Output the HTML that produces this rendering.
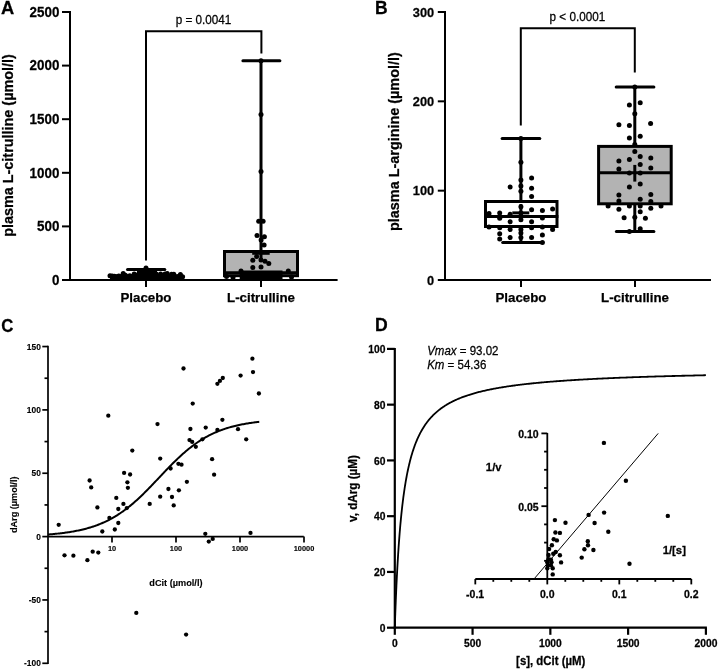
<!DOCTYPE html>
<html><head><meta charset="utf-8"><style>
html,body{margin:0;padding:0;background:#fff;width:719px;height:669px;overflow:hidden}
svg{display:block;font-family:"Liberation Sans",sans-serif;will-change:transform}
text{stroke:#000;stroke-width:0.25px}
.sm{stroke-width:0.12px}
</style></head><body>
<svg width="719" height="669" viewBox="0 0 719 669">
<text transform="translate(1.00,13.90) scale(1,1.04)" font-size="18.3" font-weight="bold" text-anchor="start" >A</text>
<line x1="70.00" y1="11.00" x2="70.00" y2="281.00" stroke="#000" stroke-width="2" stroke-linecap="butt"/>
<line x1="69.00" y1="280.00" x2="337.60" y2="280.00" stroke="#000" stroke-width="2" stroke-linecap="butt"/>
<line x1="62.00" y1="280.00" x2="70.00" y2="280.00" stroke="#000" stroke-width="2" stroke-linecap="butt"/>
<text transform="translate(59.40,284.85) scale(1,1.04)" font-size="13.4" font-weight="bold" text-anchor="end" >0</text>
<line x1="62.00" y1="226.40" x2="70.00" y2="226.40" stroke="#000" stroke-width="2" stroke-linecap="butt"/>
<text transform="translate(59.40,231.25) scale(1,1.04)" font-size="13.4" font-weight="bold" text-anchor="end" >500</text>
<line x1="62.00" y1="172.80" x2="70.00" y2="172.80" stroke="#000" stroke-width="2" stroke-linecap="butt"/>
<text transform="translate(59.40,177.65) scale(1,1.04)" font-size="13.4" font-weight="bold" text-anchor="end" >1000</text>
<line x1="62.00" y1="119.20" x2="70.00" y2="119.20" stroke="#000" stroke-width="2" stroke-linecap="butt"/>
<text transform="translate(59.40,124.05) scale(1,1.04)" font-size="13.4" font-weight="bold" text-anchor="end" >1500</text>
<line x1="62.00" y1="65.60" x2="70.00" y2="65.60" stroke="#000" stroke-width="2" stroke-linecap="butt"/>
<text transform="translate(59.40,70.45) scale(1,1.04)" font-size="13.4" font-weight="bold" text-anchor="end" >2000</text>
<line x1="62.00" y1="12.00" x2="70.00" y2="12.00" stroke="#000" stroke-width="2" stroke-linecap="butt"/>
<text transform="translate(59.40,16.85) scale(1,1.04)" font-size="13.4" font-weight="bold" text-anchor="end" >2500</text>
<line x1="146.00" y1="280.00" x2="146.00" y2="287.00" stroke="#000" stroke-width="2" stroke-linecap="butt"/>
<line x1="261.00" y1="280.00" x2="261.00" y2="287.00" stroke="#000" stroke-width="2" stroke-linecap="butt"/>
<text transform="translate(146.00,302.10) scale(1,1.0)" font-size="13.3" font-weight="bold" text-anchor="middle" >Placebo</text>
<text transform="translate(261.00,302.10) scale(1,1.0)" font-size="13.3" font-weight="bold" text-anchor="middle" >L-citrulline</text>
<text transform="translate(12.6,145.5) rotate(-90) scale(1,1.04)" font-size="14.4" font-weight="bold" text-anchor="middle">plasma L-citrulline (µmol/l)</text>
<polyline points="146,260.6 146,31.2 261.4,31.2 261.4,53.5" fill="none" stroke="#000" stroke-width="2"/>
<text transform="translate(203.50,23.80) scale(1,1.04)" font-size="11.7" font-weight="normal" text-anchor="middle" >p = 0.0041</text>
<line x1="127.50" y1="269.50" x2="164.80" y2="269.50" stroke="#000" stroke-width="3" stroke-linecap="round"/>
<rect x="137" y="270" width="20" height="10" fill="#000"/>
<rect x="110" y="274.5" width="72" height="5.5" fill="#000"/>
<circle cx="110.00" cy="275.68" r="2.5"/>
<circle cx="112.20" cy="276.10" r="2.5"/>
<circle cx="114.40" cy="276.28" r="2.5"/>
<circle cx="116.60" cy="276.80" r="2.5"/>
<circle cx="118.80" cy="276.09" r="2.5"/>
<circle cx="121.00" cy="276.73" r="2.5"/>
<circle cx="123.20" cy="273.60" r="2.5"/>
<circle cx="125.40" cy="275.13" r="2.5"/>
<circle cx="127.60" cy="276.80" r="2.5"/>
<circle cx="129.80" cy="275.77" r="2.5"/>
<circle cx="132.00" cy="276.65" r="2.5"/>
<circle cx="134.20" cy="273.90" r="2.5"/>
<circle cx="136.40" cy="275.14" r="2.5"/>
<circle cx="138.60" cy="274.36" r="2.5"/>
<circle cx="140.80" cy="275.40" r="2.5"/>
<circle cx="143.00" cy="275.51" r="2.5"/>
<circle cx="145.20" cy="273.55" r="2.5"/>
<circle cx="147.40" cy="274.26" r="2.5"/>
<circle cx="149.60" cy="274.48" r="2.5"/>
<circle cx="151.80" cy="276.71" r="2.5"/>
<circle cx="154.00" cy="276.18" r="2.5"/>
<circle cx="156.20" cy="274.06" r="2.5"/>
<circle cx="158.40" cy="276.29" r="2.5"/>
<circle cx="160.60" cy="273.99" r="2.5"/>
<circle cx="162.80" cy="275.66" r="2.5"/>
<circle cx="165.00" cy="273.94" r="2.5"/>
<circle cx="167.20" cy="273.51" r="2.5"/>
<circle cx="169.40" cy="276.55" r="2.5"/>
<circle cx="171.60" cy="274.23" r="2.5"/>
<circle cx="173.80" cy="274.25" r="2.5"/>
<circle cx="176.00" cy="276.94" r="2.5"/>
<circle cx="178.20" cy="276.55" r="2.5"/>
<circle cx="180.40" cy="274.51" r="2.5"/>
<circle cx="182.60" cy="276.87" r="2.5"/>
<circle cx="146.00" cy="268.00" r="2.5"/>
<rect x="224.5" y="251.5" width="73" height="24.2" fill="#b3b3b3" stroke="#000" stroke-width="3"/>
<line x1="223.00" y1="272.80" x2="299.00" y2="272.80" stroke="#000" stroke-width="3" stroke-linecap="butt"/>
<line x1="261.00" y1="61.00" x2="261.00" y2="259.50" stroke="#000" stroke-width="3" stroke-linecap="butt"/>
<line x1="242.90" y1="60.80" x2="279.90" y2="60.80" stroke="#000" stroke-width="3" stroke-linecap="round"/>
<line x1="252.20" y1="253.50" x2="269.70" y2="253.50" stroke="#000" stroke-width="2.6" stroke-linecap="butt"/>
<circle cx="261.00" cy="60.80" r="2.5"/>
<circle cx="261.00" cy="114.60" r="2.5"/>
<circle cx="261.00" cy="171.60" r="2.5"/>
<circle cx="258.70" cy="221.30" r="2.5"/>
<circle cx="263.10" cy="221.30" r="2.5"/>
<circle cx="257.00" cy="235.60" r="2.5"/>
<circle cx="264.40" cy="236.80" r="2.5"/>
<circle cx="261.10" cy="240.00" r="2.5"/>
<circle cx="264.10" cy="245.00" r="2.5"/>
<circle cx="256.60" cy="256.60" r="2.5"/>
<circle cx="252.80" cy="260.30" r="2.5"/>
<circle cx="261.00" cy="260.00" r="2.5"/>
<circle cx="265.00" cy="261.30" r="2.5"/>
<circle cx="268.80" cy="263.50" r="2.5"/>
<circle cx="252.80" cy="267.50" r="2.5"/>
<circle cx="261.00" cy="266.90" r="2.5"/>
<circle cx="241.00" cy="271.00" r="2.5"/>
<circle cx="288.30" cy="271.00" r="2.5"/>
<circle cx="226.50" cy="276.50" r="2.5"/>
<circle cx="233.00" cy="277.50" r="2.5"/>
<circle cx="291.50" cy="277.00" r="2.5"/>
<rect x="239.7" y="270.5" width="42.8" height="9" fill="#000"/>
<text transform="translate(375.00,13.90) scale(1,1.04)" font-size="17.5" font-weight="bold" text-anchor="start" >B</text>
<line x1="445.00" y1="11.00" x2="445.00" y2="281.00" stroke="#000" stroke-width="2" stroke-linecap="butt"/>
<line x1="444.00" y1="280.00" x2="711.00" y2="280.00" stroke="#000" stroke-width="2" stroke-linecap="butt"/>
<line x1="437.80" y1="280.00" x2="445.00" y2="280.00" stroke="#000" stroke-width="2" stroke-linecap="butt"/>
<text transform="translate(434.20,284.60) scale(1,1.04)" font-size="12.8" font-weight="bold" text-anchor="end" >0</text>
<line x1="437.80" y1="190.67" x2="445.00" y2="190.67" stroke="#000" stroke-width="2" stroke-linecap="butt"/>
<text transform="translate(434.20,195.27) scale(1,1.04)" font-size="12.8" font-weight="bold" text-anchor="end" >100</text>
<line x1="437.80" y1="101.33" x2="445.00" y2="101.33" stroke="#000" stroke-width="2" stroke-linecap="butt"/>
<text transform="translate(434.20,105.93) scale(1,1.04)" font-size="12.8" font-weight="bold" text-anchor="end" >200</text>
<line x1="437.80" y1="12.00" x2="445.00" y2="12.00" stroke="#000" stroke-width="2" stroke-linecap="butt"/>
<text transform="translate(434.20,16.60) scale(1,1.04)" font-size="12.8" font-weight="bold" text-anchor="end" >300</text>
<line x1="521.00" y1="280.00" x2="521.00" y2="287.00" stroke="#000" stroke-width="2" stroke-linecap="butt"/>
<line x1="635.00" y1="280.00" x2="635.00" y2="287.00" stroke="#000" stroke-width="2" stroke-linecap="butt"/>
<text transform="translate(521.00,302.10) scale(1,1.0)" font-size="13.3" font-weight="bold" text-anchor="middle" >Placebo</text>
<text transform="translate(635.00,302.10) scale(1,1.0)" font-size="13.3" font-weight="bold" text-anchor="middle" >L-citrulline</text>
<text transform="translate(398.6,141.6) rotate(-90) scale(1,1.04)" font-size="14.4" font-weight="bold" text-anchor="middle">plasma L-arginine (µmol/l)</text>
<polyline points="520.8,125.4 520.8,28.3 634.8,28.3 634.8,72.4" fill="none" stroke="#000" stroke-width="2"/>
<text transform="translate(577.40,21.30) scale(1,1.04)" font-size="11.7" font-weight="normal" text-anchor="middle" >p &lt; 0.0001</text>
<line x1="520.90" y1="138.60" x2="520.90" y2="242.60" stroke="#000" stroke-width="3" stroke-linecap="butt"/>
<line x1="502.10" y1="138.60" x2="539.80" y2="138.60" stroke="#000" stroke-width="3" stroke-linecap="round"/>
<circle cx="520.90" cy="138.60" r="2.5"/>
<line x1="502.70" y1="242.60" x2="541.30" y2="242.60" stroke="#000" stroke-width="3" stroke-linecap="round"/>
<rect x="485.5" y="201.5" width="71.5" height="25" fill="#fff" stroke="#000" stroke-width="3"/>
<line x1="484.00" y1="216.50" x2="558.40" y2="216.50" stroke="#000" stroke-width="3" stroke-linecap="butt"/>
<line x1="512.30" y1="212.90" x2="529.30" y2="212.90" stroke="#000" stroke-width="3" stroke-linecap="butt"/>
<line x1="520.90" y1="204.00" x2="520.90" y2="221.00" stroke="#000" stroke-width="3" stroke-linecap="butt"/>
<circle cx="520.90" cy="162.30" r="2.5"/>
<circle cx="531.60" cy="178.10" r="2.5"/>
<circle cx="520.90" cy="179.90" r="2.5"/>
<circle cx="510.10" cy="187.00" r="2.5"/>
<circle cx="520.90" cy="186.00" r="2.5"/>
<circle cx="531.60" cy="188.30" r="2.5"/>
<circle cx="520.90" cy="191.30" r="2.5"/>
<circle cx="531.60" cy="196.40" r="2.5"/>
<circle cx="520.90" cy="206.80" r="2.5"/>
<circle cx="531.60" cy="209.80" r="2.5"/>
<circle cx="542.40" cy="210.40" r="2.5"/>
<circle cx="552.60" cy="208.90" r="2.5"/>
<circle cx="489.00" cy="213.40" r="2.5"/>
<circle cx="499.70" cy="212.90" r="2.5"/>
<circle cx="499.70" cy="218.30" r="2.5"/>
<circle cx="510.10" cy="221.80" r="2.5"/>
<circle cx="520.90" cy="219.70" r="2.5"/>
<circle cx="531.60" cy="221.80" r="2.5"/>
<circle cx="542.40" cy="217.90" r="2.5"/>
<circle cx="489.00" cy="226.90" r="2.5"/>
<circle cx="499.70" cy="227.80" r="2.5"/>
<circle cx="510.10" cy="229.60" r="2.5"/>
<circle cx="520.90" cy="229.60" r="2.5"/>
<circle cx="531.60" cy="227.80" r="2.5"/>
<circle cx="542.40" cy="226.90" r="2.5"/>
<circle cx="552.60" cy="229.60" r="2.5"/>
<circle cx="499.70" cy="233.70" r="2.5"/>
<circle cx="520.90" cy="233.10" r="2.5"/>
<circle cx="510.10" cy="237.60" r="2.5"/>
<circle cx="520.90" cy="237.60" r="2.5"/>
<circle cx="531.60" cy="237.60" r="2.5"/>
<circle cx="542.40" cy="234.90" r="2.5"/>
<circle cx="499.70" cy="239.10" r="2.5"/>
<circle cx="542.40" cy="242.60" r="2.5"/>
<circle cx="510.10" cy="214.30" r="2.5"/>
<circle cx="520.90" cy="212.90" r="2.5"/>
<line x1="634.80" y1="86.90" x2="634.80" y2="231.40" stroke="#000" stroke-width="3" stroke-linecap="butt"/>
<line x1="616.20" y1="86.90" x2="653.90" y2="86.90" stroke="#000" stroke-width="3" stroke-linecap="round"/>
<circle cx="634.80" cy="86.90" r="2.5"/>
<line x1="616.40" y1="231.40" x2="653.90" y2="231.40" stroke="#000" stroke-width="3" stroke-linecap="round"/>
<rect x="598.6" y="146.4" width="72.6" height="57.4" fill="#b3b3b3" stroke="#000" stroke-width="3"/>
<line x1="598.00" y1="172.70" x2="671.40" y2="172.70" stroke="#000" stroke-width="3" stroke-linecap="butt"/>
<line x1="634.80" y1="164.90" x2="634.80" y2="181.60" stroke="#000" stroke-width="3" stroke-linecap="butt"/>
<circle cx="629.40" cy="104.90" r="2.5"/>
<circle cx="640.20" cy="102.70" r="2.5"/>
<circle cx="634.80" cy="113.80" r="2.5"/>
<circle cx="618.90" cy="124.80" r="2.5"/>
<circle cx="629.40" cy="125.40" r="2.5"/>
<circle cx="650.60" cy="123.60" r="2.5"/>
<circle cx="629.40" cy="138.00" r="2.5"/>
<circle cx="640.20" cy="136.20" r="2.5"/>
<circle cx="634.80" cy="144.60" r="2.5"/>
<circle cx="634.80" cy="151.40" r="2.5"/>
<circle cx="640.20" cy="156.60" r="2.5"/>
<circle cx="650.80" cy="158.10" r="2.5"/>
<circle cx="618.90" cy="160.90" r="2.5"/>
<circle cx="629.40" cy="159.60" r="2.5"/>
<circle cx="640.20" cy="164.50" r="2.5"/>
<circle cx="618.90" cy="169.10" r="2.5"/>
<circle cx="650.80" cy="168.00" r="2.5"/>
<circle cx="629.40" cy="173.10" r="2.5"/>
<circle cx="640.20" cy="173.10" r="2.5"/>
<circle cx="629.40" cy="186.90" r="2.5"/>
<circle cx="640.20" cy="184.10" r="2.5"/>
<circle cx="618.90" cy="195.00" r="2.5"/>
<circle cx="650.80" cy="194.40" r="2.5"/>
<circle cx="640.20" cy="199.30" r="2.5"/>
<circle cx="618.90" cy="201.10" r="2.5"/>
<circle cx="650.80" cy="201.50" r="2.5"/>
<circle cx="608.10" cy="206.10" r="2.5"/>
<circle cx="629.40" cy="206.10" r="2.5"/>
<circle cx="640.20" cy="206.10" r="2.5"/>
<circle cx="661.00" cy="206.10" r="2.5"/>
<circle cx="618.90" cy="209.20" r="2.5"/>
<circle cx="650.80" cy="208.20" r="2.5"/>
<circle cx="640.20" cy="211.80" r="2.5"/>
<circle cx="624.10" cy="217.70" r="2.5"/>
<circle cx="634.80" cy="217.20" r="2.5"/>
<circle cx="645.40" cy="218.20" r="2.5"/>
<circle cx="640.20" cy="228.80" r="2.5"/>
<circle cx="629.40" cy="231.40" r="2.5"/>
<text transform="translate(1.30,331.50) scale(1,1.04)" font-size="16.8" font-weight="bold" text-anchor="start" >C</text>
<line x1="48.00" y1="345.75" x2="48.00" y2="664.10" stroke="#000" stroke-width="1.7" stroke-linecap="butt"/>
<line x1="48.00" y1="536.60" x2="303.80" y2="536.60" stroke="#000" stroke-width="1.7" stroke-linecap="butt"/>
<line x1="42.30" y1="663.30" x2="48.00" y2="663.30" stroke="#000" stroke-width="1.7" stroke-linecap="butt"/>
<text class="sm" transform="translate(40.80,666.30) scale(1,1.04)" font-size="8.4" font-weight="bold" text-anchor="end" >-100</text>
<line x1="44.50" y1="631.62" x2="48.00" y2="631.62" stroke="#000" stroke-width="1.7" stroke-linecap="butt"/>
<line x1="42.30" y1="599.95" x2="48.00" y2="599.95" stroke="#000" stroke-width="1.7" stroke-linecap="butt"/>
<text class="sm" transform="translate(40.80,602.95) scale(1,1.04)" font-size="8.4" font-weight="bold" text-anchor="end" >-50</text>
<line x1="44.50" y1="568.27" x2="48.00" y2="568.27" stroke="#000" stroke-width="1.7" stroke-linecap="butt"/>
<line x1="42.30" y1="536.60" x2="48.00" y2="536.60" stroke="#000" stroke-width="1.7" stroke-linecap="butt"/>
<text class="sm" transform="translate(40.80,539.60) scale(1,1.04)" font-size="8.4" font-weight="bold" text-anchor="end" >0</text>
<line x1="44.50" y1="504.93" x2="48.00" y2="504.93" stroke="#000" stroke-width="1.7" stroke-linecap="butt"/>
<line x1="42.30" y1="473.25" x2="48.00" y2="473.25" stroke="#000" stroke-width="1.7" stroke-linecap="butt"/>
<text class="sm" transform="translate(40.80,476.25) scale(1,1.04)" font-size="8.4" font-weight="bold" text-anchor="end" >50</text>
<line x1="44.50" y1="441.58" x2="48.00" y2="441.58" stroke="#000" stroke-width="1.7" stroke-linecap="butt"/>
<line x1="42.30" y1="409.90" x2="48.00" y2="409.90" stroke="#000" stroke-width="1.7" stroke-linecap="butt"/>
<text class="sm" transform="translate(40.80,412.90) scale(1,1.04)" font-size="8.4" font-weight="bold" text-anchor="end" >100</text>
<line x1="44.50" y1="378.23" x2="48.00" y2="378.23" stroke="#000" stroke-width="1.7" stroke-linecap="butt"/>
<line x1="42.30" y1="346.55" x2="48.00" y2="346.55" stroke="#000" stroke-width="1.7" stroke-linecap="butt"/>
<text class="sm" transform="translate(40.80,349.55) scale(1,1.04)" font-size="8.4" font-weight="bold" text-anchor="end" >150</text>
<line x1="112.00" y1="536.60" x2="112.00" y2="542.50" stroke="#000" stroke-width="1.7" stroke-linecap="butt"/>
<text class="sm" transform="translate(112.00,551.00) scale(1,1.04)" font-size="7.4" font-weight="bold" text-anchor="middle" >10</text>
<line x1="176.00" y1="536.60" x2="176.00" y2="542.50" stroke="#000" stroke-width="1.7" stroke-linecap="butt"/>
<text class="sm" transform="translate(176.00,551.00) scale(1,1.04)" font-size="7.4" font-weight="bold" text-anchor="middle" >100</text>
<line x1="240.00" y1="536.60" x2="240.00" y2="542.50" stroke="#000" stroke-width="1.7" stroke-linecap="butt"/>
<text class="sm" transform="translate(240.00,551.00) scale(1,1.04)" font-size="7.4" font-weight="bold" text-anchor="middle" >1000</text>
<line x1="304.00" y1="536.60" x2="304.00" y2="542.50" stroke="#000" stroke-width="1.7" stroke-linecap="butt"/>
<text class="sm" transform="translate(304.00,551.00) scale(1,1.04)" font-size="7.4" font-weight="bold" text-anchor="middle" >10000</text>
<text class="sm" transform="translate(175.90,585.90) scale(1,1.04)" font-size="9.2" font-weight="bold" text-anchor="middle" >dCit (µmol/l)</text>
<text class="sm" transform="translate(16.6,504.8) rotate(-90) scale(1,1.04)" font-size="9.15" font-weight="bold" text-anchor="middle">dArg (µmol/l)</text>
<polyline points="48.00,534.47 49.06,534.39 50.11,534.31 51.17,534.22 52.23,534.13 53.28,534.04 54.34,533.94 55.39,533.84 56.45,533.73 57.51,533.62 58.56,533.51 59.62,533.40 60.68,533.28 61.73,533.15 62.79,533.02 63.84,532.89 64.90,532.75 65.96,532.60 67.01,532.45 68.07,532.30 69.13,532.14 70.18,531.97 71.24,531.80 72.30,531.62 73.35,531.44 74.41,531.25 75.46,531.05 76.52,530.85 77.58,530.63 78.63,530.42 79.69,530.19 80.75,529.95 81.80,529.71 82.86,529.46 83.92,529.20 84.97,528.93 86.03,528.66 87.08,528.37 88.14,528.08 89.20,527.77 90.25,527.45 91.31,527.13 92.37,526.79 93.42,526.45 94.48,526.09 95.53,525.72 96.59,525.34 97.65,524.94 98.70,524.54 99.76,524.12 100.82,523.69 101.87,523.25 102.93,522.79 103.99,522.32 105.04,521.84 106.10,521.34 107.15,520.83 108.21,520.30 109.27,519.76 110.32,519.20 111.38,518.63 112.44,518.04 113.49,517.44 114.55,516.82 115.61,516.19 116.66,515.54 117.72,514.88 118.77,514.19 119.83,513.50 120.89,512.78 121.94,512.05 123.00,511.31 124.06,510.54 125.11,509.76 126.17,508.97 127.22,508.16 128.28,507.33 129.34,506.48 130.39,505.62 131.45,504.75 132.51,503.86 133.56,502.95 134.62,502.03 135.68,501.09 136.73,500.14 137.79,499.18 138.84,498.20 139.90,497.21 140.96,496.21 142.01,495.19 143.07,494.17 144.13,493.13 145.18,492.08 146.24,491.03 147.29,489.96 148.35,488.88 149.41,487.80 150.46,486.71 151.52,485.61 152.58,484.51 153.63,483.40 154.69,482.29 155.75,481.18 156.80,480.06 157.86,478.94 158.91,477.82 159.97,476.70 161.03,475.59 162.08,474.47 163.14,473.35 164.20,472.24 165.25,471.13 166.31,470.03 167.37,468.93 168.42,467.84 169.48,466.75 170.53,465.68 171.59,464.61 172.65,463.55 173.70,462.50 174.76,461.46 175.82,460.43 176.87,459.41 177.93,458.40 178.98,457.41 180.04,456.43 181.10,455.46 182.15,454.51 183.21,453.57 184.27,452.64 185.32,451.73 186.38,450.84 187.44,449.96 188.49,449.09 189.55,448.24 190.60,447.41 191.66,446.59 192.72,445.79 193.77,445.01 194.83,444.24 195.89,443.49 196.94,442.76 198.00,442.04 199.06,441.34 200.11,440.65 201.17,439.98 202.22,439.33 203.28,438.69 204.34,438.07 205.39,437.46 206.45,436.87 207.51,436.30 208.56,435.74 209.62,435.19 210.67,434.66 211.73,434.14 212.79,433.64 213.84,433.15 214.90,432.68 215.96,432.22 217.01,431.77 218.07,431.34 219.13,430.92 220.18,430.51 221.24,430.11 222.29,429.73 223.35,429.36 224.41,428.99 225.46,428.64 226.52,428.30 227.58,427.98 228.63,427.66 229.69,427.35 230.75,427.05 231.80,426.76 232.86,426.48 233.91,426.21 234.97,425.95 236.03,425.70 237.08,425.45 238.14,425.22 239.20,424.99 240.25,424.77 241.31,424.55 242.36,424.35 243.42,424.15 244.48,423.96 245.53,423.77 246.59,423.59 247.65,423.42 248.70,423.25 249.76,423.09 250.82,422.93 251.87,422.78 252.93,422.63 253.98,422.49 255.04,422.36 256.10,422.23 257.15,422.10 258.21,421.98 259.27,421.86" fill="none" stroke="#000" stroke-width="2"/>
<circle cx="183.50" cy="368.50" r="2.15"/>
<circle cx="192.70" cy="403.60" r="2.15"/>
<circle cx="108.30" cy="415.70" r="2.15"/>
<circle cx="157.50" cy="424.10" r="2.15"/>
<circle cx="190.40" cy="429.00" r="2.15"/>
<circle cx="189.50" cy="440.10" r="2.15"/>
<circle cx="192.20" cy="441.90" r="2.15"/>
<circle cx="195.80" cy="446.80" r="2.15"/>
<circle cx="132.30" cy="450.60" r="2.15"/>
<circle cx="160.20" cy="458.60" r="2.15"/>
<circle cx="89.60" cy="480.50" r="2.15"/>
<circle cx="91.20" cy="487.40" r="2.15"/>
<circle cx="124.10" cy="472.90" r="2.15"/>
<circle cx="130.10" cy="474.50" r="2.15"/>
<circle cx="127.40" cy="482.30" r="2.15"/>
<circle cx="127.90" cy="487.80" r="2.15"/>
<circle cx="97.40" cy="507.40" r="2.15"/>
<circle cx="116.30" cy="497.90" r="2.15"/>
<circle cx="118.30" cy="509.00" r="2.15"/>
<circle cx="123.40" cy="503.90" r="2.15"/>
<circle cx="126.80" cy="508.10" r="2.15"/>
<circle cx="109.40" cy="517.90" r="2.15"/>
<circle cx="118.30" cy="523.00" r="2.15"/>
<circle cx="102.30" cy="531.50" r="2.15"/>
<circle cx="114.80" cy="529.50" r="2.15"/>
<circle cx="58.70" cy="524.80" r="2.15"/>
<circle cx="170.60" cy="468.50" r="2.15"/>
<circle cx="178.40" cy="463.80" r="2.15"/>
<circle cx="181.50" cy="464.70" r="2.15"/>
<circle cx="186.90" cy="481.80" r="2.15"/>
<circle cx="168.40" cy="489.00" r="2.15"/>
<circle cx="178.90" cy="490.30" r="2.15"/>
<circle cx="160.20" cy="496.70" r="2.15"/>
<circle cx="172.00" cy="497.00" r="2.15"/>
<circle cx="149.70" cy="503.90" r="2.15"/>
<circle cx="173.70" cy="505.40" r="2.15"/>
<circle cx="64.50" cy="555.30" r="2.15"/>
<circle cx="73.40" cy="555.70" r="2.15"/>
<circle cx="92.70" cy="551.70" r="2.15"/>
<circle cx="98.30" cy="552.60" r="2.15"/>
<circle cx="87.40" cy="560.20" r="2.15"/>
<circle cx="252.40" cy="358.70" r="2.15"/>
<circle cx="253.00" cy="372.10" r="2.15"/>
<circle cx="240.60" cy="375.60" r="2.15"/>
<circle cx="222.80" cy="378.00" r="2.15"/>
<circle cx="219.90" cy="380.90" r="2.15"/>
<circle cx="217.40" cy="383.80" r="2.15"/>
<circle cx="258.90" cy="393.50" r="2.15"/>
<circle cx="222.40" cy="419.80" r="2.15"/>
<circle cx="205.70" cy="427.60" r="2.15"/>
<circle cx="217.40" cy="430.00" r="2.15"/>
<circle cx="238.00" cy="429.20" r="2.15"/>
<circle cx="202.40" cy="439.30" r="2.15"/>
<circle cx="246.20" cy="439.30" r="2.15"/>
<circle cx="212.10" cy="459.20" r="2.15"/>
<circle cx="214.10" cy="474.70" r="2.15"/>
<circle cx="205.30" cy="533.80" r="2.15"/>
<circle cx="212.70" cy="538.90" r="2.15"/>
<circle cx="208.80" cy="541.60" r="2.15"/>
<circle cx="250.50" cy="532.90" r="2.15"/>
<circle cx="136.30" cy="612.90" r="2.15"/>
<circle cx="186.10" cy="634.60" r="2.15"/>
<text transform="translate(375.00,331.40) scale(1,1.04)" font-size="17.6" font-weight="bold" text-anchor="start" >D</text>
<line x1="394.80" y1="348.00" x2="394.80" y2="628.70" stroke="#000" stroke-width="2.2" stroke-linecap="butt"/>
<line x1="393.80" y1="627.70" x2="706.90" y2="627.70" stroke="#000" stroke-width="2.2" stroke-linecap="butt"/>
<line x1="387.00" y1="627.70" x2="394.80" y2="627.70" stroke="#000" stroke-width="2.2" stroke-linecap="butt"/>
<text transform="translate(385.50,631.90) scale(1,1.04)" font-size="10.3" font-weight="bold" text-anchor="end" >0</text>
<line x1="387.00" y1="571.94" x2="394.80" y2="571.94" stroke="#000" stroke-width="2.2" stroke-linecap="butt"/>
<text transform="translate(385.50,576.14) scale(1,1.04)" font-size="10.3" font-weight="bold" text-anchor="end" >20</text>
<line x1="387.00" y1="516.18" x2="394.80" y2="516.18" stroke="#000" stroke-width="2.2" stroke-linecap="butt"/>
<text transform="translate(385.50,520.38) scale(1,1.04)" font-size="10.3" font-weight="bold" text-anchor="end" >40</text>
<line x1="387.00" y1="460.42" x2="394.80" y2="460.42" stroke="#000" stroke-width="2.2" stroke-linecap="butt"/>
<text transform="translate(385.50,464.62) scale(1,1.04)" font-size="10.3" font-weight="bold" text-anchor="end" >60</text>
<line x1="387.00" y1="404.66" x2="394.80" y2="404.66" stroke="#000" stroke-width="2.2" stroke-linecap="butt"/>
<text transform="translate(385.50,408.86) scale(1,1.04)" font-size="10.3" font-weight="bold" text-anchor="end" >80</text>
<line x1="387.00" y1="348.90" x2="394.80" y2="348.90" stroke="#000" stroke-width="2.2" stroke-linecap="butt"/>
<text transform="translate(385.50,353.10) scale(1,1.04)" font-size="10.3" font-weight="bold" text-anchor="end" >100</text>
<line x1="394.80" y1="627.70" x2="394.80" y2="634.80" stroke="#000" stroke-width="2.2" stroke-linecap="butt"/>
<text transform="translate(394.80,647.00) scale(1,1.04)" font-size="10.3" font-weight="bold" text-anchor="middle" >0</text>
<line x1="472.57" y1="627.70" x2="472.57" y2="634.80" stroke="#000" stroke-width="2.2" stroke-linecap="butt"/>
<text transform="translate(472.57,647.00) scale(1,1.04)" font-size="10.3" font-weight="bold" text-anchor="middle" >500</text>
<line x1="550.35" y1="627.70" x2="550.35" y2="634.80" stroke="#000" stroke-width="2.2" stroke-linecap="butt"/>
<text transform="translate(550.35,647.00) scale(1,1.04)" font-size="10.3" font-weight="bold" text-anchor="middle" >1000</text>
<line x1="628.12" y1="627.70" x2="628.12" y2="634.80" stroke="#000" stroke-width="2.2" stroke-linecap="butt"/>
<text transform="translate(628.12,647.00) scale(1,1.04)" font-size="10.3" font-weight="bold" text-anchor="middle" >1500</text>
<line x1="705.90" y1="627.70" x2="705.90" y2="634.80" stroke="#000" stroke-width="2.2" stroke-linecap="butt"/>
<text transform="translate(705.90,647.00) scale(1,1.04)" font-size="10.3" font-weight="bold" text-anchor="middle" >2000</text>
<text transform="translate(550.70,664.60) scale(1,1.04)" font-size="11.4" font-weight="bold" text-anchor="middle" >[s], dCit (µM)</text>
<text transform="translate(356.5,488.5) rotate(-90) scale(1,1.04)" font-size="11.7" font-weight="bold" text-anchor="middle">v, dArg (µM)</text>
<text transform="translate(427.2,355) scale(1,1.04)" font-size="11.5"><tspan font-style="italic">Vmax</tspan> = 93.02</text>
<text transform="translate(427.2,368.9) scale(1,1.04)" font-size="11.5"><tspan font-style="italic">Km</tspan> = 54.36</text>
<polyline points="394.80,627.70 394.80,627.68 394.80,627.62 394.81,627.50 394.81,627.32 394.82,627.08 394.83,626.78 394.84,626.41 394.86,625.97 394.87,625.46 394.89,624.88 394.91,624.23 394.94,623.51 394.97,622.72 394.99,621.86 395.03,620.92 395.06,619.92 395.10,618.85 395.14,617.71 395.18,616.50 395.23,615.23 395.28,613.89 395.33,612.49 395.38,611.03 395.44,609.50 395.50,607.93 395.56,606.29 395.63,604.60 395.70,602.86 395.77,601.07 395.84,599.24 395.92,597.36 396.00,595.44 396.09,593.47 396.17,591.48 396.26,589.44 396.36,587.38 396.45,585.28 396.55,583.16 396.66,581.01 396.76,578.84 396.87,576.65 396.99,574.44 397.10,572.22 397.22,569.98 397.34,567.73 397.47,565.47 397.60,563.21 397.73,560.94 397.87,558.66 398.01,556.39 398.15,554.11 398.30,551.84 398.45,549.57 398.60,547.31 398.76,545.05 398.92,542.80 399.08,540.57 399.25,538.34 399.42,536.12 399.59,533.92 399.77,531.73 399.95,529.56 400.13,527.40 400.32,525.26 400.51,523.14 400.71,521.04 400.91,518.96 401.11,516.89 401.31,514.85 401.52,512.83 401.74,510.83 401.95,508.85 402.17,506.89 402.40,504.96 402.63,503.05 402.86,501.16 403.09,499.30 403.33,497.46 403.57,495.64 403.82,493.85 404.07,492.08 404.32,490.33 404.58,488.61 404.84,486.92 405.11,485.24 405.37,483.59 405.65,481.97 405.92,480.36 406.20,478.78 406.49,477.23 406.77,475.70 407.07,474.19 407.36,472.70 407.66,471.24 407.96,469.79 408.27,468.38 408.58,466.98 408.90,465.60 409.21,464.25 409.54,462.92 409.86,461.61 410.19,460.32 410.53,459.05 410.86,457.80 411.21,456.57 411.55,455.36 411.90,454.17 412.25,453.00 412.61,451.84 412.97,450.71 413.34,449.60 413.71,448.50 414.08,447.42 414.46,446.36 414.84,445.31 415.23,444.29 415.62,443.28 416.01,442.28 416.41,441.31 416.81,440.35 417.21,439.40 417.62,438.47 418.04,437.56 418.45,436.66 418.88,435.77 419.30,434.90 419.73,434.04 420.16,433.20 420.60,432.37 421.04,431.56 421.49,430.75 421.94,429.96 422.40,429.19 422.85,428.42 423.32,427.67 423.78,426.93 424.25,426.20 424.73,425.49 425.21,424.78 425.69,424.09 426.18,423.41 426.67,422.74 427.17,422.08 427.67,421.43 428.17,420.79 428.68,420.16 429.19,419.54 429.71,418.93 430.23,418.33 430.76,417.74 431.29,417.16 431.82,416.58 432.36,416.02 432.90,415.46 433.45,414.92 434.00,414.38 434.55,413.85 435.11,413.33 435.67,412.81 436.24,412.31 436.81,411.81 437.39,411.32 437.97,410.84 438.55,410.36 439.14,409.89 439.74,409.43 440.33,408.98 440.94,408.53 441.54,408.09 442.15,407.65 442.77,407.22 443.39,406.80 444.01,406.39 444.64,405.98 445.27,405.57 445.91,405.18 446.55,404.78 447.20,404.40 447.85,404.02 448.50,403.64 449.16,403.27 449.82,402.91 450.49,402.55 451.16,402.19 451.84,401.84 452.52,401.50 453.20,401.16 453.89,400.83 454.58,400.50 455.28,400.17 455.98,399.85 456.69,399.53 457.40,399.22 458.12,398.91 458.84,398.61 459.56,398.31 460.29,398.01 461.03,397.72 461.76,397.44 462.51,397.15 463.25,396.87 464.01,396.60 464.76,396.32 465.52,396.06 466.29,395.79 467.06,395.53 467.83,395.27 468.61,395.02 469.39,394.77 470.18,394.52 470.97,394.27 471.77,394.03 472.57,393.79 473.37,393.56 474.18,393.33 475.00,393.10 475.82,392.87 476.64,392.65 477.47,392.42 478.30,392.21 479.14,391.99 479.98,391.78 480.83,391.57 481.68,391.36 482.53,391.16 483.39,390.96 484.26,390.76 485.13,390.56 486.00,390.36 486.88,390.17 487.76,389.98 488.65,389.79 489.54,389.61 490.44,389.43 491.34,389.25 492.25,389.07 493.16,388.89 494.07,388.72 494.99,388.54 495.92,388.37 496.85,388.20 497.78,388.04 498.72,387.87 499.66,387.71 500.61,387.55 501.56,387.39 502.52,387.24 503.48,387.08 504.45,386.93 505.42,386.78 506.40,386.63 507.38,386.48 508.36,386.33 509.35,386.19 510.35,386.04 511.35,385.90 512.35,385.76 513.36,385.63 514.37,385.49 515.39,385.35 516.41,385.22 517.44,385.09 518.47,384.96 519.51,384.83 520.55,384.70 521.60,384.57 522.65,384.45 523.70,384.32 524.76,384.20 525.83,384.08 526.90,383.96 527.97,383.84 529.05,383.73 530.14,383.61 531.23,383.50 532.32,383.38 533.42,383.27 534.52,383.16 535.63,383.05 536.74,382.94 537.86,382.83 538.98,382.73 540.11,382.62 541.24,382.52 542.38,382.41 543.52,382.31 544.67,382.21 545.82,382.11 546.97,382.01 548.14,381.91 549.30,381.82 550.47,381.72 551.65,381.63 552.83,381.53 554.01,381.44 555.20,381.35 556.40,381.26 557.60,381.17 558.80,381.08 560.01,380.99 561.22,380.90 562.44,380.81 563.67,380.73 564.89,380.64 566.13,380.56 567.37,380.47 568.61,380.39 569.86,380.31 571.11,380.23 572.37,380.15 573.63,380.07 574.90,379.99 576.17,379.91 577.45,379.84 578.73,379.76 580.02,379.68 581.31,379.61 582.61,379.53 583.91,379.46 585.21,379.39 586.53,379.31 587.84,379.24 589.16,379.17 590.49,379.10 591.82,379.03 593.16,378.96 594.50,378.90 595.84,378.83 597.19,378.76 598.55,378.69 599.91,378.63 601.28,378.56 602.65,378.50 604.02,378.43 605.40,378.37 606.79,378.31 608.18,378.25 609.58,378.18 610.98,378.12 612.38,378.06 613.79,378.00 615.21,377.94 616.63,377.88 618.05,377.82 619.48,377.77 620.92,377.71 622.36,377.65 623.80,377.60 625.25,377.54 626.71,377.48 628.17,377.43 629.63,377.37 631.10,377.32 632.58,377.27 634.06,377.21 635.55,377.16 637.04,377.11 638.53,377.06 640.03,377.00 641.54,376.95 643.05,376.90 644.56,376.85 646.08,376.80 647.61,376.75 649.14,376.70 650.67,376.66 652.21,376.61 653.76,376.56 655.31,376.51 656.87,376.47 658.43,376.42 659.99,376.37 661.56,376.33 663.14,376.28 664.72,376.24 666.31,376.19 667.90,376.15 669.49,376.10 671.10,376.06 672.70,376.02 674.31,375.98 675.93,375.93 677.55,375.89 679.18,375.85 680.81,375.81 682.45,375.77 684.09,375.73 685.74,375.68 687.39,375.64 689.05,375.60 690.71,375.57 692.38,375.53 694.05,375.49 695.73,375.45 697.41,375.41 699.10,375.37 700.79,375.33 702.49,375.30 704.19,375.26 705.90,375.22" fill="none" stroke="#000" stroke-width="1.8"/>
<line x1="547.30" y1="433.00" x2="547.30" y2="579.80" stroke="#000" stroke-width="1.8" stroke-linecap="butt"/>
<line x1="475.30" y1="579.00" x2="691.30" y2="579.00" stroke="#000" stroke-width="1.8" stroke-linecap="butt"/>
<line x1="541.40" y1="579.00" x2="547.30" y2="579.00" stroke="#000" stroke-width="1.8" stroke-linecap="butt"/>
<line x1="544.10" y1="560.80" x2="547.30" y2="560.80" stroke="#000" stroke-width="1.8" stroke-linecap="butt"/>
<line x1="544.10" y1="542.60" x2="547.30" y2="542.60" stroke="#000" stroke-width="1.8" stroke-linecap="butt"/>
<line x1="544.10" y1="524.40" x2="547.30" y2="524.40" stroke="#000" stroke-width="1.8" stroke-linecap="butt"/>
<line x1="541.40" y1="506.20" x2="547.30" y2="506.20" stroke="#000" stroke-width="1.8" stroke-linecap="butt"/>
<text transform="translate(538.60,510.70) scale(1,1.04)" font-size="10.5" font-weight="bold" text-anchor="end" >0.05</text>
<line x1="544.10" y1="488.00" x2="547.30" y2="488.00" stroke="#000" stroke-width="1.8" stroke-linecap="butt"/>
<line x1="544.10" y1="469.80" x2="547.30" y2="469.80" stroke="#000" stroke-width="1.8" stroke-linecap="butt"/>
<line x1="544.10" y1="451.60" x2="547.30" y2="451.60" stroke="#000" stroke-width="1.8" stroke-linecap="butt"/>
<line x1="541.40" y1="433.40" x2="547.30" y2="433.40" stroke="#000" stroke-width="1.8" stroke-linecap="butt"/>
<text transform="translate(538.60,437.90) scale(1,1.04)" font-size="10.5" font-weight="bold" text-anchor="end" >0.10</text>
<line x1="475.30" y1="579.00" x2="475.30" y2="584.40" stroke="#000" stroke-width="1.8" stroke-linecap="butt"/>
<text transform="translate(475.10,597.90) scale(1,1.04)" font-size="10.5" font-weight="bold" text-anchor="middle" >-0.1</text>
<line x1="493.30" y1="579.00" x2="493.30" y2="581.80" stroke="#000" stroke-width="1.8" stroke-linecap="butt"/>
<line x1="511.30" y1="579.00" x2="511.30" y2="581.80" stroke="#000" stroke-width="1.8" stroke-linecap="butt"/>
<line x1="529.30" y1="579.00" x2="529.30" y2="581.80" stroke="#000" stroke-width="1.8" stroke-linecap="butt"/>
<line x1="547.30" y1="579.00" x2="547.30" y2="584.40" stroke="#000" stroke-width="1.8" stroke-linecap="butt"/>
<text transform="translate(547.30,597.90) scale(1,1.04)" font-size="10.5" font-weight="bold" text-anchor="middle" >0.0</text>
<line x1="565.30" y1="579.00" x2="565.30" y2="581.80" stroke="#000" stroke-width="1.8" stroke-linecap="butt"/>
<line x1="583.30" y1="579.00" x2="583.30" y2="581.80" stroke="#000" stroke-width="1.8" stroke-linecap="butt"/>
<line x1="601.30" y1="579.00" x2="601.30" y2="581.80" stroke="#000" stroke-width="1.8" stroke-linecap="butt"/>
<line x1="619.30" y1="579.00" x2="619.30" y2="584.40" stroke="#000" stroke-width="1.8" stroke-linecap="butt"/>
<text transform="translate(619.30,597.90) scale(1,1.04)" font-size="10.5" font-weight="bold" text-anchor="middle" >0.1</text>
<line x1="637.30" y1="579.00" x2="637.30" y2="581.80" stroke="#000" stroke-width="1.8" stroke-linecap="butt"/>
<line x1="655.30" y1="579.00" x2="655.30" y2="581.80" stroke="#000" stroke-width="1.8" stroke-linecap="butt"/>
<line x1="673.30" y1="579.00" x2="673.30" y2="581.80" stroke="#000" stroke-width="1.8" stroke-linecap="butt"/>
<line x1="691.30" y1="579.00" x2="691.30" y2="584.40" stroke="#000" stroke-width="1.8" stroke-linecap="butt"/>
<text transform="translate(691.30,597.90) scale(1,1.04)" font-size="10.5" font-weight="bold" text-anchor="middle" >0.2</text>
<text transform="translate(493.70,471.00) scale(1,1.04)" font-size="11.3" font-weight="bold" text-anchor="middle" >1/v</text>
<text transform="translate(674.30,553.60) scale(1,1.04)" font-size="11.3" font-weight="bold" text-anchor="middle" >1/[s]</text>
<line x1="534.00" y1="579.00" x2="658.20" y2="433.40" stroke="#000" stroke-width="1" stroke-linecap="butt"/>
<circle cx="588.60" cy="514.90" r="2.2"/>
<circle cx="604.10" cy="512.60" r="2.2"/>
<circle cx="554.90" cy="520.10" r="2.2"/>
<circle cx="565.50" cy="522.70" r="2.2"/>
<circle cx="594.60" cy="523.00" r="2.2"/>
<circle cx="608.30" cy="531.70" r="2.2"/>
<circle cx="555.40" cy="532.50" r="2.2"/>
<circle cx="559.90" cy="532.90" r="2.2"/>
<circle cx="553.70" cy="539.20" r="2.2"/>
<circle cx="556.90" cy="540.40" r="2.2"/>
<circle cx="587.80" cy="541.30" r="2.2"/>
<circle cx="588.00" cy="545.20" r="2.2"/>
<circle cx="551.90" cy="545.20" r="2.2"/>
<circle cx="584.40" cy="549.30" r="2.2"/>
<circle cx="593.40" cy="550.00" r="2.2"/>
<circle cx="549.10" cy="549.00" r="2.2"/>
<circle cx="555.70" cy="552.00" r="2.2"/>
<circle cx="553.30" cy="553.80" r="2.2"/>
<circle cx="548.50" cy="555.00" r="2.2"/>
<circle cx="559.90" cy="555.20" r="2.2"/>
<circle cx="581.70" cy="557.60" r="2.2"/>
<circle cx="548.50" cy="559.20" r="2.2"/>
<circle cx="550.90" cy="559.80" r="2.2"/>
<circle cx="547.30" cy="562.20" r="2.2"/>
<circle cx="551.50" cy="562.20" r="2.2"/>
<circle cx="561.10" cy="562.40" r="2.2"/>
<circle cx="547.90" cy="565.20" r="2.2"/>
<circle cx="550.90" cy="565.20" r="2.2"/>
<circle cx="547.30" cy="568.20" r="2.2"/>
<circle cx="552.70" cy="568.20" r="2.2"/>
<circle cx="552.70" cy="574.40" r="2.2"/>
<circle cx="603.90" cy="442.90" r="2.2"/>
<circle cx="625.90" cy="480.70" r="2.2"/>
<circle cx="629.50" cy="563.80" r="2.2"/>
<circle cx="667.80" cy="515.90" r="2.2"/>
</svg>
</body></html>
